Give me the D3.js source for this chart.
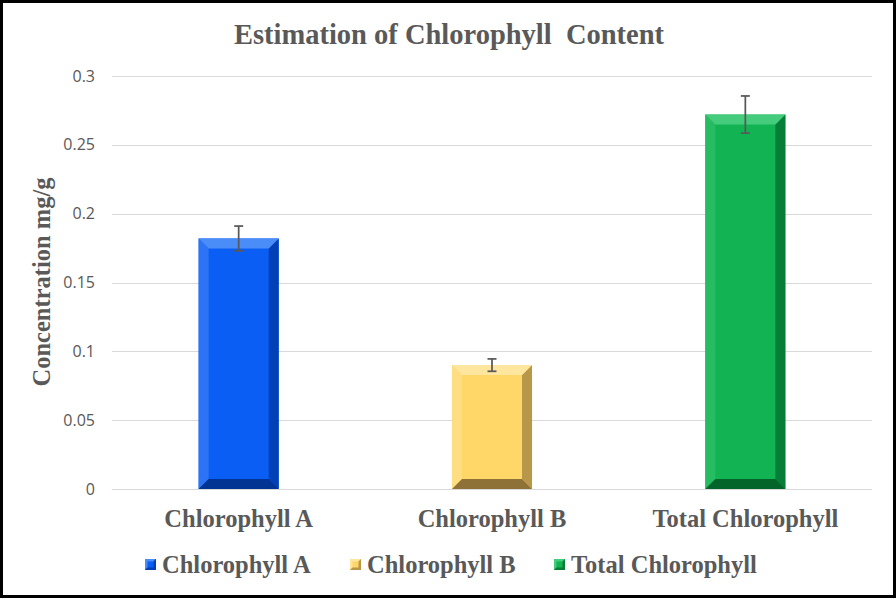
<!DOCTYPE html>
<html><head><meta charset="utf-8">
<script src="https://cdn.jsdelivr.net/npm/d3@7/dist/d3.min.js"></script>
<style>html,body{margin:0;padding:0;background:#fff;}svg{display:block;}</style>
</head><body>
<script>
const categories = ["Chlorophyll A", "Chlorophyll B", "Total Chlorophyll"];
const values = [0.182, 0.090, 0.272];
const errors = [0.009, 0.0045, 0.0135];
const yTicks = [0, 0.05, 0.1, 0.15, 0.2, 0.25, 0.3];
const yTickLabels = ["0", "0.05", "0.1", "0.15", "0.2", "0.25", "0.3"];
const colors = [
  {face:"#0B5EF4", top:"#4A8DF9", left:"#2C73F6", right:"#0340B5", bottom:"#023494"},
  {face:"#FFD668", top:"#FFE69E", left:"#FFDD80", right:"#B8964A", bottom:"#8E7136"},
  {face:"#12B352", top:"#45CB7C", left:"#26BD62", right:"#067E37", bottom:"#04652B"}
];

const W = 896, H = 598;
const svg = d3.select("body").append("svg").attr("width", W).attr("height", H);
svg.append("rect").attr("x",1.5).attr("y",1.5).attr("width",W-3).attr("height",H-3)
  .attr("fill","#fff").attr("stroke","#000").attr("stroke-width",3);

const pL = 112, pR = 872, pT = 76, pB = 489;
const x = d3.scaleBand().domain(categories).range([pL, pR]).paddingInner(0.684).paddingOuter(0.342);
const y = d3.scaleLinear().domain([0, 0.3]).range([pB, pT]);

// gridlines
svg.append("g").selectAll("line").data(yTicks).join("line")
  .attr("x1", pL).attr("x2", pR)
  .attr("y1", d => Math.round(y(d)) + 0.5).attr("y2", d => Math.round(y(d)) + 0.5)
  .attr("stroke", "#d9d9d9").attr("stroke-width", 1);

// y axis tick labels
const yAxis = d3.axisLeft(y).tickValues(yTicks).tickFormat((d,i) => yTickLabels[i]).tickSize(0).tickPadding(0);
const ga = svg.append("g").attr("transform", `translate(${pL-17},0)`).call(yAxis);
ga.select(".domain").remove();
ga.selectAll("text").attr("font-family","Open Sans, sans-serif").attr("font-size","16px").attr("fill","#595959");

// bars with bevel
const b = 10;
const bars = svg.append("g").selectAll("g").data(values).join("g");
bars.each(function(v, i) {
  const g = d3.select(this);
  const x0 = x(categories[i]), x1 = x0 + x.bandwidth();
  const y0 = y(v), y1 = y(0);
  const c = colors[i];
  g.append("rect").attr("x", x0).attr("y", y0).attr("width", x1 - x0).attr("height", y1 - y0).attr("fill", c.face);
  const poly = (pts, fill) => g.append("polygon").attr("points", pts.map(p => p.join(",")).join(" ")).attr("fill", fill);
  poly([[x0,y0],[x0+b,y0+b],[x0+b,y1-b],[x0,y1]], c.left);
  poly([[x1,y0],[x1,y1],[x1-b,y1-b],[x1-b,y0+b]], c.right);
  poly([[x0,y1],[x1,y1],[x1-b,y1-b],[x0+b,y1-b]], c.bottom);
  poly([[x0,y0],[x1,y0],[x1-b,y0+b],[x0+b,y0+b]], c.top);
});

// error bars
const eb = svg.append("g").attr("stroke", "#595959").attr("stroke-width", 1.75).attr("fill", "none");
values.forEach((v, i) => {
  const cx = x(categories[i]) + x.bandwidth() / 2;
  const yt = y(v + errors[i]), yb = y(v - errors[i]);
  eb.append("line").attr("x1", cx).attr("x2", cx).attr("y1", yt).attr("y2", yb);
  eb.append("line").attr("x1", cx - 4.5).attr("x2", cx + 4.5).attr("y1", yt).attr("y2", yt);
  eb.append("line").attr("x1", cx - 4.5).attr("x2", cx + 4.5).attr("y1", yb).attr("y2", yb);
});

const serif = "Liberation Serif, Times New Roman, serif";
// x labels
svg.append("g").selectAll("text").data(categories).join("text")
  .attr("x", d => x(d) + x.bandwidth() / 2).attr("y", 527)
  .attr("text-anchor", "middle").attr("font-family", serif).attr("font-weight", "bold")
  .attr("font-size", "24.5px").attr("fill", "#595959").text(d => d);

// title
svg.append("text").attr("x", 449).attr("y", 44).attr("text-anchor", "middle")
  .attr("font-family", serif).attr("font-weight", "bold").attr("font-size", "28.5px")
  .attr("fill", "#595959").style("white-space", "pre").text("Estimation of Chlorophyll  Content");

// y title
svg.append("text").attr("transform", "translate(50,282) rotate(-90)").attr("text-anchor", "middle")
  .attr("font-family", serif).attr("font-weight", "bold").attr("font-size", "24.5px")
  .attr("fill", "#595959").text("Concentration mg/g");

// legend
const legX = [145, 350, 554];
const lg = svg.append("g");
categories.forEach((cat, i) => {
  const lx = legX[i], ly = 559, s = 11;
  const c = colors[i];
  lg.append("rect").attr("x", lx).attr("y", ly).attr("width", s).attr("height", s).attr("fill", c.face);
  lg.append("polygon").attr("points", `${lx},${ly} ${lx+s},${ly} ${lx},${ly+s}`).attr("fill", c.top);
  lg.append("polygon").attr("points", `${lx+s},${ly} ${lx+s},${ly+s} ${lx},${ly+s}`).attr("fill", c.right);
  lg.append("rect").attr("x", lx+2.5).attr("y", ly+2.5).attr("width", s-5).attr("height", s-5).attr("fill", c.face);
  lg.append("text").attr("x", lx + s + 6).attr("y", ly + s + 3)
    .attr("font-family", serif).attr("font-weight", "bold").attr("font-size", "24.5px")
    .attr("fill", "#595959").text(cat);
});
</script>
</body></html>
